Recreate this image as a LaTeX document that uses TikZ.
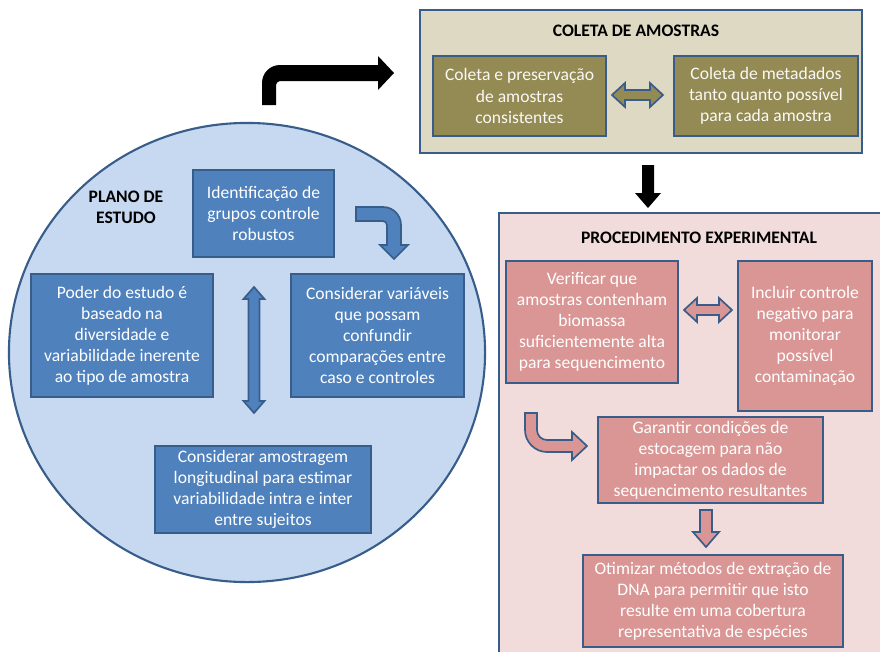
\documentclass[tikz,border=0pt]{standalone}
\usepackage{fontspec}
\setmainfont{Carlito}
\usetikzlibrary{shapes.geometric}

\definecolor{circbg}{HTML}{C6D9F0}
\definecolor{boxblue}{HTML}{4F81BD}
\definecolor{lineblue}{HTML}{385D8A}
\definecolor{olive}{HTML}{948A54}
\definecolor{beige}{HTML}{DDD9C3}
\definecolor{pinkbg}{HTML}{F2DCDB}
\definecolor{rose}{HTML}{D99694}

\begin{document}
\begin{tikzpicture}[x=0.025cm,y=-0.025cm,
    font=\fontsize{12.5}{15}\selectfont,
    panel/.style={draw=lineblue,line width=1.5pt,inner sep=0pt},
    box/.style={draw=lineblue,line width=1.4pt,align=center,inner sep=0pt,text=white},
    bluebox/.style={box,fill=boxblue},
    olivebox/.style={box,fill=olive,text=white!95!olive},
    rosebox/.style={box,fill=rose},
    heading/.style={font=\fontsize{12.5}{15}\selectfont\bfseries,align=center},
    blockarrow/.style={draw=lineblue,line width=1.2pt,line join=miter}
  ]
  \clip (0,0) rectangle (880,651);
  \fill[white] (0,0) rectangle (880,651);

  % plano de estudo
  \node[ellipse,draw=lineblue,line width=1.5pt,fill=circbg,
    minimum width=11.9cm,minimum height=11.475cm] (plano) at (247,352.5) {};
  \node[heading] (planotitle) at (126,207.5) {PLANO DE\\ESTUDO};
  \node[bluebox,minimum width=3.525cm,minimum height=2.175cm] (ident) at (263.5,213.5)
    {Identificação de\\grupos controle\\robustos};
  \node[bluebox,minimum width=4.55cm,minimum height=3.075cm] (poder) at (122,335.5)
    {Poder do estudo é\\baseado na\\diversidade e\\variabilidade inerente\\ao tipo de amostra};
  \node[bluebox,minimum width=4.325cm,minimum height=3.075cm] (confund) at (377.5,335.5)
    {Considerar variáveis\\que possam\\confundir\\comparações entre\\caso e controles};
  \node[bluebox,minimum width=5.4cm,minimum height=2.175cm] (longit) at (263,489.5)
    {Considerar amostragem\\longitudinal para estimar\\variabilidade intra e inter\\entre sujeitos};

  % bent arrow ident -> confund
  \draw[blockarrow,fill=boxblue] (356,207) -- (383,207)
    .. controls (393,207) and (401,215) .. (401,225) -- (401,245) -- (408,245)
    -- (394,259) -- (380,245) -- (387,245) -- (387,225)
    .. controls (387,223) and (385,221) .. (383,221) -- (356,221) -- cycle;
  % double arrow, vertical
  \draw[blockarrow,fill=boxblue] (254,287) -- (264.5,299) -- (259.5,299) -- (259.5,401)
    -- (264.5,401) -- (254,413) -- (243.5,401) -- (248.5,401) -- (248.5,299)
    -- (243.5,299) -- cycle;

  % plano -> coleta
  \fill[black] (262,105) -- (262,83) .. controls (262,73) and (270,65) .. (280,65)
    -- (378,65) -- (378,56) -- (394,73) -- (378,90) -- (378,81) -- (280,81)
    .. controls (278,81) and (276,83) .. (276,85) -- (276,105) -- cycle;

  % coleta de amostras
  \node[panel,fill=beige,minimum width=11.05cm,minimum height=3.575cm] (coleta) at (641,81.5) {};
  \node[heading] (coletatitle) at (636,31) {COLETA DE AMOSTRAS};
  \node[olivebox,minimum width=4.325cm,minimum height=2cm] (cons) at (519.5,96)
    {Coleta e preservação\\de amostras\\consistentes};
  \node[olivebox,minimum width=4.6cm,minimum height=2cm] (meta) at (766,96)
    {Coleta de metadados\\tanto quanto possível\\para cada amostra};
  \draw[blockarrow,fill=olive] (612,95) -- (625,83) -- (625,90) -- (650,90) -- (650,83)
    -- (663,95) -- (650,107) -- (650,100) -- (625,100) -- (625,107) -- cycle;

  % coleta -> procedimento
  \fill[black] (642,165) -- (654,165) -- (654,193) -- (661,193) -- (648,208)
    -- (635,193) -- (642,193) -- cycle;

  % procedimento experimental
  \node[panel,fill=pinkbg,minimum width=9.775cm,minimum height=11.175cm] (exper) at (694.5,436.5) {};
  \node[heading] (expertitle) at (699,238) {PROCEDIMENTO EXPERIMENTAL};
  \node[rosebox,minimum width=4.3cm,minimum height=3.05cm] (verif) at (592,322)
    {Verificar que\\amostras contenham\\biomassa\\suficientemente alta\\para sequencimento};
  \node[rosebox,minimum width=3.35cm,minimum height=3.75cm] (neg) at (805,336)
    {Incluir controle\\negativo para\\monitorar\\possível\\contaminação};
  \node[rosebox,minimum width=5.625cm,minimum height=2.15cm] (estoc) at (710.5,460)
    {Garantir condições de\\estocagem para não\\impactar os dados de\\sequencimento resultantes};
  \node[rosebox,minimum width=6.5cm,minimum height=2.3cm] (dna) at (713,601)
    {Otimizar métodos de extração de\\DNA para permitir que isto\\resulte em uma cobertura\\representativa de espécies};

  \draw[blockarrow,fill=rose] (684,310) -- (697,298) -- (697,305) -- (719,305) -- (719,298)
    -- (732,310) -- (719,322) -- (719,315) -- (697,315) -- (697,322) -- cycle;
  \draw[blockarrow,fill=rose] (525,413) -- (525,430) .. controls (525,442) and (535,452) .. (547,452)
    -- (572,452) -- (572,460) -- (587,446) -- (572,432) -- (572,440) -- (547,440)
    .. controls (541.5,440) and (537,435.5) .. (537,430) -- (537,413) -- cycle;
  \draw[blockarrow,fill=rose] (700,510) -- (712,510) -- (712,532) -- (719,532) -- (706,547)
    -- (693,532) -- (700,532) -- cycle;
\end{tikzpicture}
\end{document}
